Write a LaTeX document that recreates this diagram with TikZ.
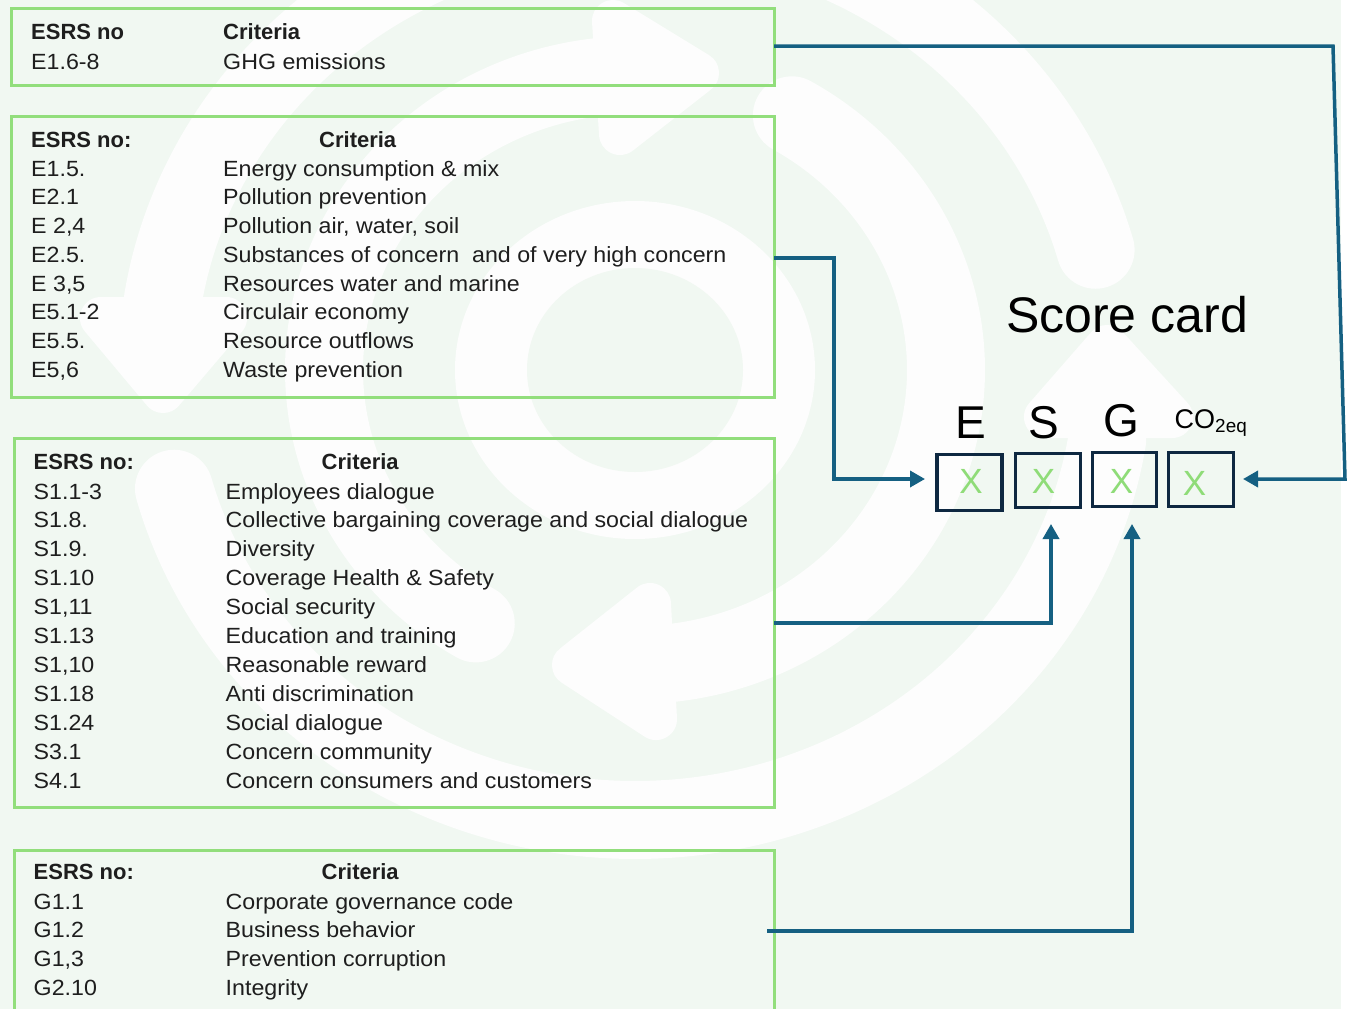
\documentclass[tikz,border=0pt]{standalone}
\usepackage{fontspec}
\setmainfont{Liberation Sans}
\newfontfamily\bodyface{Liberation Sans}[FakeStretch=1.055]
\usetikzlibrary{arrows.meta}
\definecolor{bggreen}{HTML}{F1F8F2}
\definecolor{wm}{HTML}{FDFDFD}
\definecolor{panelgreen}{HTML}{92DE7C}
\definecolor{link}{HTML}{156082}
\definecolor{navy}{HTML}{0E2841}
\definecolor{txt}{HTML}{1E1E1E}
\definecolor{xgreen}{HTML}{8FDC78}
\tikzset{
  panel/.style={draw=panelgreen,line width=3pt,inner sep=0pt,outer sep=0pt,anchor=north west},
  cell/.style={txt,inner sep=0pt,anchor=base west,font=\fontsize{22}{26}\bodyface\selectfont},
  head/.style={txt,inner sep=0pt,anchor=base west,font=\fontsize{22}{26}\selectfont\bfseries},
  scorebox/.style={draw=navy,line width=3.4pt,inner sep=0pt,outer sep=0pt},
  xmark/.style={text=xgreen,inner sep=0pt,anchor=base,font=\fontsize{35}{40}\selectfont},
  letter/.style={black,inner sep=0pt,anchor=base,font=\fontsize{50}{54}\selectfont},
  esgletter/.style={letter,font=\fontsize{46}{50}\selectfont},
  conn/.style={draw=link,line width=3.5pt,line join=miter},
  arrowconn/.style={conn,-{Triangle[length=15pt,width=16pt]}},
  band/.style={draw=wm,line width=78pt,line cap=round,line join=round},
  headshape/.style={draw=wm,fill=wm,line width=42pt,line join=round},
}
\newcommand{\trow}[5]{%
  \node[cell] (#1a) at (#2,#3) {#4};
  \node[cell] (#1b) at (#2+192,#3) {#5};}
\begin{document}
\begin{tikzpicture}[x=1pt,y=-1pt]
\clip (0,0) rectangle (1349,1009);
\useasboundingbox (0,0) rectangle (1349,1009);
\fill[bggreen] (0,0) rectangle (1341,1009);
% watermark
\fill[wm] (635,370) ellipse [x radius=180pt,y radius=169pt];
\fill[bggreen] (635,370) ellipse [x radius=108pt,y radius=102pt];
\draw[band] plot[domain=164.7:9,samples=90,smooth] ({635+478*cos(\x)},{370+450*sin(\x)});
\draw[band] plot[domain=-15.5:-171,samples=90,smooth] ({635+478*cos(\x)},{370+450*sin(\x)});
\draw[band] plot[domain=-59.7:83,samples=90,smooth] ({635+311*cos(\x)},{370+295*sin(\x)});
\draw[band] plot[domain=120.8:263,samples=90,smooth] ({635+311*cos(\x)},{370+295*sin(\x)});
\draw[headshape] (1107,346) -- (1172,417) -- (1045,417) -- cycle;
\draw[headshape] (163,392) -- (101,318) -- (226,318) -- cycle;
\draw[headshape] (573,665) -- (650,604) -- (656,719) -- cycle;
\draw[headshape] (698,73) -- (620,134) -- (613,21) -- cycle;
% panels
\node[panel,minimum width=763pt,minimum height=77pt] (p1) at (11,8) {};
\node[panel,minimum width=763pt,minimum height=281pt] (p2) at (11,116) {};
\node[panel,minimum width=760pt,minimum height=369pt] (p3) at (14,438) {};
\node[panel,minimum width=760pt,minimum height=175pt] (p4) at (14,850) {};
% panel 1
\node[head] (h1a) at (31,39) {ESRS no};
\node[head] (h1b) at (223,39) {Criteria};
\trow{r1}{31}{69}{E1.6-8}{GHG emissions}
% panel 2
\node[head] (h2a) at (31,147) {ESRS no:};
\node[head] (h2b) at (319,147) {Criteria};
\trow{e1}{31}{176}{E1.5.}{Energy consumption \& mix}
\trow{e2}{31}{204.7}{E2.1}{Pollution prevention}
\trow{e3}{31}{233.4}{E 2,4}{Pollution air, water, soil}
\trow{e4}{31}{262.1}{E2.5.}{Substances of concern\ \ and of very high concern}
\trow{e5}{31}{291}{E 3,5}{Resources water and marine}
\trow{e6}{31}{319.6}{E5.1-2}{Circulair economy}
\trow{e7}{31}{348.3}{E5.5.}{Resource outflows}
\trow{e8}{31}{377}{E5,6}{Waste prevention}
% panel 3
\node[head] (h3a) at (33.5,469.5) {ESRS no:};
\node[head] (h3b) at (321.5,469.5) {Criteria};
\trow{s1}{33.5}{499}{S1.1-3}{Employees dialogue}
\trow{s2}{33.5}{527.9}{S1.8.}{Collective bargaining coverage and social dialogue}
\trow{s3}{33.5}{556.8}{S1.9.}{Diversity}
\trow{s4}{33.5}{585.7}{S1.10}{Coverage Health \& Safety}
\trow{s5}{33.5}{614.6}{S1,11}{Social security}
\trow{s6}{33.5}{643.5}{S1.13}{Education and training}
\trow{s7}{33.5}{672.4}{S1,10}{Reasonable reward}
\trow{s8}{33.5}{701.3}{S1.18}{Anti discrimination}
\trow{s9}{33.5}{730.2}{S1.24}{Social dialogue}
\trow{s10}{33.5}{759.1}{S3.1}{Concern community}
\trow{s11}{33.5}{788}{S4.1}{Concern consumers and customers}
% panel 4
\node[head] (h4a) at (33.5,879.5) {ESRS no:};
\node[head] (h4b) at (321.5,879.5) {Criteria};
\trow{g1}{33.5}{909}{G1.1}{Corporate governance code}
\trow{g2}{33.5}{937.7}{G1.2}{Business behavior}
\trow{g3}{33.5}{966.4}{G1,3}{Prevention corruption}
\trow{g4}{33.5}{995}{G2.10}{Integrity}
% score card
\node[letter] (title) at (1127,332) {Score card};
\node[esgletter] (lE) at (971,438) {E};
\node[esgletter] (lS) at (1043.5,438) {S};
\node[esgletter] (lG) at (1121,436) {G};
\node[black,inner sep=0pt,anchor=base,font=\fontsize{27}{32}\selectfont] (lC) at (1211,428) {CO\textsubscript{2eq}};
\node[scorebox,minimum width=65pt,minimum height=56pt] (bE) at (969.5,482.5) {};
\node[scorebox,minimum width=65pt,minimum height=54pt] (bS) at (1048,480.5) {};
\node[scorebox,minimum width=64pt,minimum height=54pt] (bG) at (1124.5,479.5) {};
\node[scorebox,minimum width=65pt,minimum height=54pt] (bC) at (1201,479.5) {};
\node[xmark] (xE) at (971,493) {X};
\node[xmark] (xS) at (1043.5,493) {X};
\node[xmark] (xG) at (1121.5,493) {X};
\node[xmark] (xC) at (1194.5,495) {X};
% connectors
\coordinate (t1) at (1333,46);
\coordinate (t2) at (1345,479);
\coordinate (t3) at (834,258);
\coordinate (t4) at (834,479);
\coordinate (t5) at (1051,623);
\coordinate (t6) at (767,931);
\coordinate (t7) at (1132,931);
\coordinate (a1) at (1243,479);
\coordinate (a2) at (925,479);
\coordinate (a3) at (1051,524);
\coordinate (a4) at (1132,524);
\draw[arrowconn] (p1.east |- t1) -- (t1) -- (t2) -- (a1);
\draw[arrowconn] (p2.east |- t3) -- (t3) -- (t4) -- (a2);
\draw[arrowconn] (p3.east |- t5) -- (t5) -- (a3);
\draw[arrowconn] (t6) -- (t7) -- (a4);
\end{tikzpicture}
\end{document}
